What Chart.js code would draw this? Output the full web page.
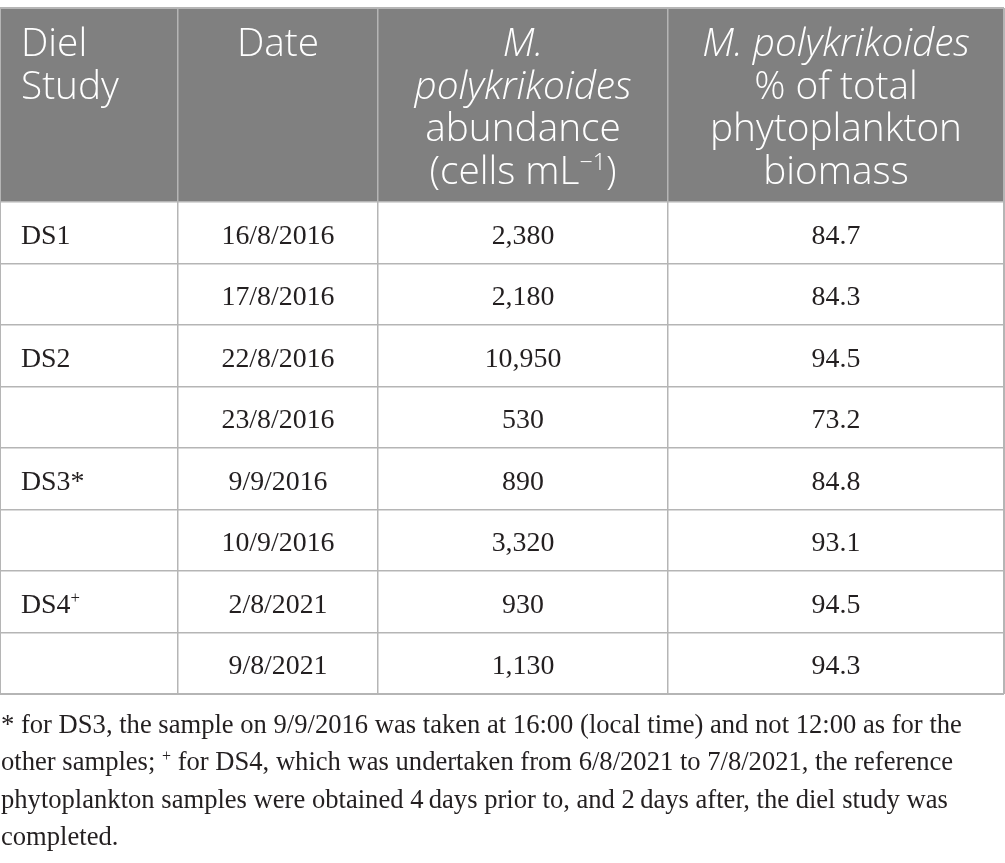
<!DOCTYPE html>
<html>
<head>
<meta charset="utf-8">
<script src="https://cdn.jsdelivr.net/npm/chart.js@4.4.1/dist/chart.umd.min.js"></script>
<style>
  html, body { margin: 0; padding: 0; background: #ffffff; overflow: hidden; }
  #wrap { position: relative; width: 1005px; height: 863px; }
  canvas { display: block; }
</style>
</head>
<body>
<div id="wrap"><canvas id="c" width="1005" height="863"></canvas></div>
<script>
// ---------------- DATA ----------------
const studyLabels = ['DS1', '', 'DS2', '', 'DS3*', '', 'DS4^+^', ''];
const sampleDates = ['16/8/2016', '17/8/2016', '22/8/2016', '23/8/2016', '9/9/2016', '10/9/2016', '2/8/2021', '9/8/2021'];
const abundanceCellsPerMl = [2380, 2180, 10950, 530, 890, 3320, 930, 1130];
const percentOfBiomass = [84.7, 84.3, 94.5, 73.2, 84.8, 93.1, 94.5, 94.3];
const columnHeaders = [
  ['Diel', 'Study'],
  ['Date'],
  ['_M._', '_polykrikoides_', 'abundance', '(cells mL^\u22121^)'],
  ['_M. polykrikoides_', '% of total', 'phytoplankton', 'biomass']
];
const footnoteLines = [
  '* for DS3, the sample on 9/9/2016 was taken at 16:00 (local time) and not 12:00 as for the',
  'other samples; ^+^ for DS4, which was undertaken from 6/8/2021 to 7/8/2021, the reference',
  'phytoplankton samples were obtained 4\u2009days prior to, and 2\u2009days after, the diel study was',
  'completed.'
];

// ---------------- LAYOUT / STYLE ----------------
const COL_EDGES = [0, 178, 378, 668, 1004];       // column boundaries (table width units)
const COL_ALIGN = ['left', 'center', 'center', 'center'];
const HEADER_UNITS = 3.155;                        // header height in body-row units
const HEADER_BG = '#808080';
const GRID = '#b5b5b5';
const TEXT = '#231f20';
const SANS = '"Open Sans", "Noto Sans", sans-serif';
const SANS_WEIGHT = '350';
const SERIF = '"Liberation Serif", "DejaVu Serif", serif';

const canvas = document.getElementById('c');
const ctx0 = canvas.getContext('2d');

function fitSize(family, weight, text, target) {
  ctx0.font = weight + ' 100px ' + family;
  const w = ctx0.measureText(text).width;
  return 100 * target / w;
}
const headerSize = fitSize(SANS, SANS_WEIGHT, 'phytoplankton', 252);
const bodySize = fitSize(SERIF, '400', '16/8/2016', 113);
const footSize = fitSize(SERIF, '400', footnoteLines[0], 961);

function parseRich(s) {
  const parts = [];
  const re = /_([^_]+)_|\^([^^]+)\^|([^_^]+)/g;
  let m;
  while ((m = re.exec(s))) {
    if (m[1] !== undefined) parts.push({ t: m[1], it: true });
    else if (m[2] !== undefined) parts.push({ t: m[2], sup: true });
    else parts.push({ t: m[3] });
  }
  return parts;
}
function fontFor(p, size, family, weight) {
  return (p.it ? 'italic ' : '') + weight + ' ' + (p.sup ? size * 0.6 : size).toFixed(2) + 'px ' + family;
}
function drawRich(ctx, s, x, yBase, align, size, family, weight, color) {
  const parts = parseRich(s);
  let w = 0;
  for (const p of parts) { ctx.font = fontFor(p, size, family, weight); p.w = ctx.measureText(p.t).width; w += p.w; }
  let cx = align === 'left' ? x : align === 'center' ? x - w / 2 : x - w;
  ctx.textAlign = 'left';
  ctx.textBaseline = 'alphabetic';
  ctx.fillStyle = color;
  for (const p of parts) {
    ctx.font = fontFor(p, size, family, weight);
    ctx.fillText(p.t, cx, p.sup ? yBase - size * 0.36 : yBase);
    cx += p.w;
  }
}

const tablePlugin = {
  id: 'tableCells',
  beforeDraw(chart) {
    const { ctx, scales: { x, y } } = chart;
    const top = y.getPixelForValue(-HEADER_UNITS), bot = y.getPixelForValue(0);
    const l = x.getPixelForValue(COL_EDGES[0]), r = x.getPixelForValue(COL_EDGES[COL_EDGES.length - 1]);
    ctx.save();
    ctx.fillStyle = HEADER_BG;
    ctx.fillRect(l, top, r - l, bot - top);
    ctx.restore();
  },
  afterDraw(chart) {
    const { ctx, scales: { x, y } } = chart;
    ctx.save();
    const colX = (c) => COL_ALIGN[c] === 'left'
      ? x.getPixelForValue(COL_EDGES[c]) + 21
      : (x.getPixelForValue(COL_EDGES[c]) + x.getPixelForValue(COL_EDGES[c + 1])) / 2;

    // header
    const hTop = y.getPixelForValue(-HEADER_UNITS);
    columnHeaders.forEach((lines, c) => {
      lines.forEach((line, i) => {
        drawRich(ctx, line, colX(c), hTop + 48 + i * 42.5, COL_ALIGN[c], headerSize, SANS, SANS_WEIGHT, '#ffffff');
      });
    });

    // body
    const cols = [
      studyLabels,
      sampleDates,
      abundanceCellsPerMl.map(v => v.toLocaleString('en-US')),
      percentOfBiomass.map(v => v.toFixed(1))
    ];
    for (let r = 0; r < sampleDates.length; r++) {
      const yc = (y.getPixelForValue(r) + y.getPixelForValue(r + 1)) / 2;
      cols.forEach((col, c) => {
        if (col[r]) drawRich(ctx, col[r], colX(c), yc + 11, COL_ALIGN[c], bodySize, SERIF, '400', TEXT);
      });
    }

    // footnote
    const bottom = y.getPixelForValue(sampleDates.length);
    footnoteLines.forEach((line, i) => {
      drawRich(ctx, line, x.getPixelForValue(COL_EDGES[0]) + 1, bottom + 39 + i * 37.3, 'left', footSize, SERIF, '400', TEXT);
    });
    ctx.restore();
  }
};

const rowEdges = [-HEADER_UNITS];
for (let r = 0; r <= sampleDates.length; r++) rowEdges.push(r);

const edgeWidth = (n) => (c) => (c.index === 0 || c.index === n - 1) ? 2 : 1.5;

new Chart(canvas, {
  type: 'scatter',
  data: { datasets: [{ data: [], pointRadius: 0 }] },
  options: {
    responsive: false,
    animation: false,
    events: [],
    layout: { padding: { top: 8, left: 0, right: 1, bottom: 169 } },
    plugins: { legend: { display: false }, tooltip: { enabled: false } },
    scales: {
      x: {
        type: 'linear', min: COL_EDGES[0], max: COL_EDGES[COL_EDGES.length - 1],
        afterBuildTicks: (s) => { s.ticks = COL_EDGES.map(v => ({ value: v })); },
        ticks: { display: false },
        border: { display: false },
        grid: { drawTicks: false, color: GRID, lineWidth: edgeWidth(COL_EDGES.length) }
      },
      y: {
        type: 'linear', reverse: true, min: -HEADER_UNITS, max: sampleDates.length,
        afterBuildTicks: (s) => { s.ticks = rowEdges.map(v => ({ value: v })); },
        ticks: { display: false },
        border: { display: false },
        grid: { drawTicks: false, color: GRID, lineWidth: edgeWidth(rowEdges.length) }
      }
    }
  },
  plugins: [tablePlugin]
});
</script>
</body>
</html>
